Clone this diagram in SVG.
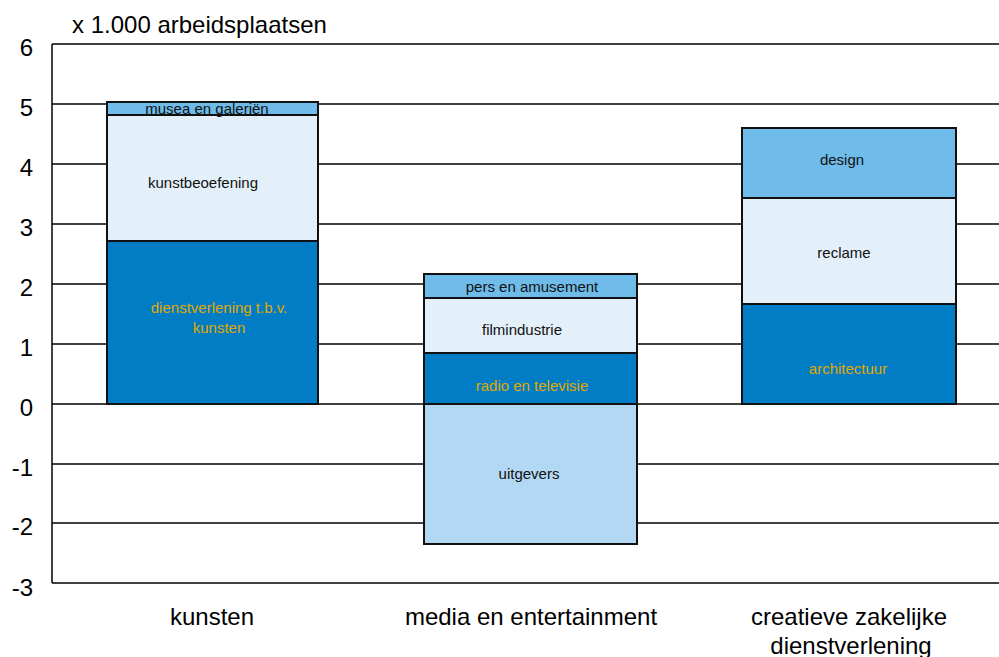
<svg xmlns="http://www.w3.org/2000/svg" width="999" height="657" viewBox="0 0 999 657">
<style>
text{font-family:"Liberation Sans",Arial,sans-serif;}
.ax{font-size:24px;fill:#000;}
.lb{font-size:15px;fill:#111;text-anchor:middle;}
.lo{font-size:15px;fill:#e0a800;text-anchor:middle;}
.grid{stroke:#000;stroke-width:1.5;}
.seg{stroke:#111;stroke-width:2;}
.d{fill:#007dc5;}
.l{fill:#e3f0fa;}
.m{fill:#6fbbea;}
.u{fill:#b3d8f3;}
</style>
<rect width="999" height="657" fill="#fff"/>
<g id="grid">
<line class="grid" x1="52" y1="44" x2="999" y2="44"/>
<line class="grid" x1="52" y1="104" x2="999" y2="104"/>
<line class="grid" x1="52" y1="164" x2="999" y2="164"/>
<line class="grid" x1="52" y1="224" x2="999" y2="224"/>
<line class="grid" x1="52" y1="284" x2="999" y2="284"/>
<line class="grid" x1="52" y1="344" x2="999" y2="344"/>
<line class="grid" x1="52" y1="404" x2="999" y2="404"/>
<line class="grid" x1="52" y1="464" x2="999" y2="464"/>
<line class="grid" x1="52" y1="523" x2="999" y2="523"/>
<line class="grid" x1="52" y1="583" x2="999" y2="583"/>
<line class="grid" x1="52" y1="44" x2="52" y2="583"/>
</g>
<g id="axis-labels">
<text class="ax" x="72" y="33">x 1.000 arbeidsplaatsen</text>
<g text-anchor="end">
<text class="ax" x="33" y="56">6</text>
<text class="ax" x="33" y="116">5</text>
<text class="ax" x="33" y="176">4</text>
<text class="ax" x="33" y="236">3</text>
<text class="ax" x="33" y="296">2</text>
<text class="ax" x="33" y="356">1</text>
<text class="ax" x="33" y="416">0</text>
<text class="ax" x="33" y="476">-1</text>
<text class="ax" x="33" y="535">-2</text>
<text class="ax" x="33" y="596">-3</text>
</g>
<g text-anchor="middle">
<text class="ax" x="212" y="625">kunsten</text>
<text class="ax" x="531" y="625">media en entertainment</text>
<text class="ax" x="849" y="625">creatieve zakelijke</text>
<text class="ax" x="851" y="654">dienstverlening</text>
</g>
</g>
<g id="bar-kunsten">
<rect class="seg d" x="107" y="241" width="211" height="163"/>
<rect class="seg l" x="107" y="115" width="211" height="126"/>
<rect class="seg m" x="107" y="102" width="211" height="13"/>
<text class="lb" x="207" y="114">musea en galeriën</text>
<text class="lb" x="203" y="188">kunstbeoefening</text>
<text class="lo" x="219" y="313">dienstverlening t.b.v.</text>
<text class="lo" x="219" y="333">kunsten</text>
</g>
<g id="bar-media">
<rect class="seg u" x="424" y="404" width="213" height="140"/>
<rect class="seg d" x="424" y="353" width="213" height="51"/>
<rect class="seg l" x="424" y="298" width="213" height="55"/>
<rect class="seg m" x="424" y="274" width="213" height="24"/>
<text class="lb" x="532" y="292">pers en amusement</text>
<text class="lb" x="522" y="335">filmindustrie</text>
<text class="lo" x="532" y="391">radio en televisie</text>
<text class="lb" x="529" y="479">uitgevers</text>
</g>
<g id="bar-creatief">
<rect class="seg d" x="742" y="304" width="214" height="100"/>
<rect class="seg l" x="742" y="198" width="214" height="106"/>
<rect class="seg m" x="742" y="128" width="214" height="70"/>
<text class="lb" x="842" y="165">design</text>
<text class="lb" x="844" y="258">reclame</text>
<text class="lo" x="848" y="374">architectuur</text>
</g>
</svg>
